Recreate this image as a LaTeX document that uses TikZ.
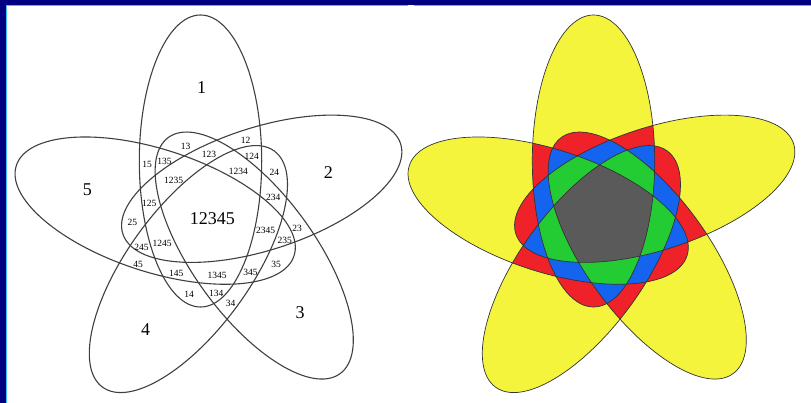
\documentclass[tikz,border=0pt]{standalone}
\usepackage{fontspec}
\setmainfont{Liberation Serif}
\definecolor{navy}{HTML}{000080}
\definecolor{edgeblue}{HTML}{40C0F8}
\definecolor{vyellow}{HTML}{F4F43C}
\definecolor{vred}{HTML}{EE2228}
\definecolor{vblue}{HTML}{1464F0}
\definecolor{vgreen}{HTML}{24CC34}
\definecolor{vgray}{HTML}{5A5A5A}
\tikzset{
  ell/.style 2 args={shift={(212+#1,217)}, rotate={-72*(#2)}},
  lineL/.style={draw=black!75, line width=1.1pt},
  lineR/.style={draw=black!80, line width=0.7pt},
  big/.style={font=\fontsize{18}{18}\selectfont, inner sep=0pt},
  small/.style={font=\fontsize{9.5}{9.5}\selectfont, inner sep=0pt},
}
\newcommand\EL{(-11.5,-56) ellipse [x radius=61.2, y radius=146]}
\begin{document}
\begin{tikzpicture}[x=1pt,y=-1pt]
\useasboundingbox (0,0) rectangle (811,403);
\fill[white] (0,0) rectangle (811,403);
\fill[navy] (0,0) rectangle (811,5);
\fill[navy] (0,0) rectangle (6,403);
\fill[edgeblue] (6,5) rectangle (408,6.2);
\fill[edgeblue] (414,5) rectangle (811,6.2);
\fill[edgeblue] (6,5) rectangle (7.2,403);

% ---------- left panel ----------
\foreach \i in {0,...,4}
  \draw[lineL, ell={0}{\i}] (-11.5,-56) ellipse [x radius=61.2, y radius=146];

\node[big] (s1) at (201.7,87.3) {1};
\node[big] (s2) at (328.3,172.3) {2};
\node[big] (s3) at (300,312.3) {3};
\node[big] (s4) at (145.7,330) {4};
\node[big] (s5) at (87.3,190) {5};
\node[big] (s12345) at (212.3,218.3) {12345};

\node[small] (l12) at (245.7,140.7) {12};
\node[small] (l23) at (297,228) {23};
\node[small] (l34) at (230.5,303) {34};
\node[small] (l45) at (138.2,264.6) {45};
\node[small] (l15) at (147,164.5) {15};
\node[small] (l13) at (185.7,146) {13};
\node[small] (l24) at (274.3,172.4) {24};
\node[small] (l35) at (276,264.3) {35};
\node[small] (l14) at (189,294.3) {14};
\node[small] (l25) at (132.3,222.4) {25};
\node[small] (l123) at (209,154.3) {123};
\node[small] (l234) at (273.3,197.5) {234};
\node[small] (l345) at (250.5,272.4) {345};
\node[small] (l145) at (176.2,273.8) {145};
\node[small] (l125) at (149.2,203.3) {125};
\node[small] (l124) at (251.7,156) {124};
\node[small] (l235) at (284.7,240) {235};
\node[small] (l134) at (216.2,293.5) {134};
\node[small] (l245) at (141.6,247.7) {245};
\node[small] (l135) at (164.5,161.7) {135};
\node[small] (l1234) at (238.3,171.3) {1234};
\node[small] (l2345) at (265.7,230.3) {2345};
\node[small] (l1345) at (217,275) {1345};
\node[small] (l1245) at (162.2,243.5) {1245};
\node[small] (l1235) at (173.7,180) {1235};

% ---------- right panel ----------
\foreach \i in {0,...,4}
  \fill[vyellow, ell={393}{\i}] (-11.5,-56) ellipse [x radius=61.2, y radius=146];
\foreach \i/\j in {0/1,0/2,0/3,0/4,1/2,1/3,1/4,2/3,2/4,3/4}{
  \begin{scope}
    \clip[ell={393}{\i}] (-11.5,-56) ellipse [x radius=61.2, y radius=146];
    \fill[vred, ell={393}{\j}] (-11.5,-56) ellipse [x radius=61.2, y radius=146];
  \end{scope}
}
\foreach \i/\j/\k in {0/1/2,0/1/3,0/1/4,0/2/3,0/2/4,0/3/4,1/2/3,1/2/4,1/3/4,2/3/4}{
  \begin{scope}
    \clip[ell={393}{\i}] (-11.5,-56) ellipse [x radius=61.2, y radius=146];
    \clip[ell={393}{\j}] (-11.5,-56) ellipse [x radius=61.2, y radius=146];
    \fill[vblue, ell={393}{\k}] (-11.5,-56) ellipse [x radius=61.2, y radius=146];
  \end{scope}
}
\foreach \i/\j/\k/\m in {0/1/2/3,0/1/2/4,0/1/3/4,0/2/3/4,1/2/3/4}{
  \begin{scope}
    \clip[ell={393}{\i}] (-11.5,-56) ellipse [x radius=61.2, y radius=146];
    \clip[ell={393}{\j}] (-11.5,-56) ellipse [x radius=61.2, y radius=146];
    \clip[ell={393}{\k}] (-11.5,-56) ellipse [x radius=61.2, y radius=146];
    \fill[vgreen, ell={393}{\m}] (-11.5,-56) ellipse [x radius=61.2, y radius=146];
  \end{scope}
}
\begin{scope}
  \clip[ell={393}{0}] (-11.5,-56) ellipse [x radius=61.2, y radius=146];
  \clip[ell={393}{1}] (-11.5,-56) ellipse [x radius=61.2, y radius=146];
  \clip[ell={393}{2}] (-11.5,-56) ellipse [x radius=61.2, y radius=146];
  \clip[ell={393}{3}] (-11.5,-56) ellipse [x radius=61.2, y radius=146];
  \fill[vgray, ell={393}{4}] (-11.5,-56) ellipse [x radius=61.2, y radius=146];
\end{scope}
\foreach \i in {0,...,4}
  \draw[lineR, ell={393}{\i}] (-11.5,-56) ellipse [x radius=61.2, y radius=146];
\end{tikzpicture}
\end{document}
